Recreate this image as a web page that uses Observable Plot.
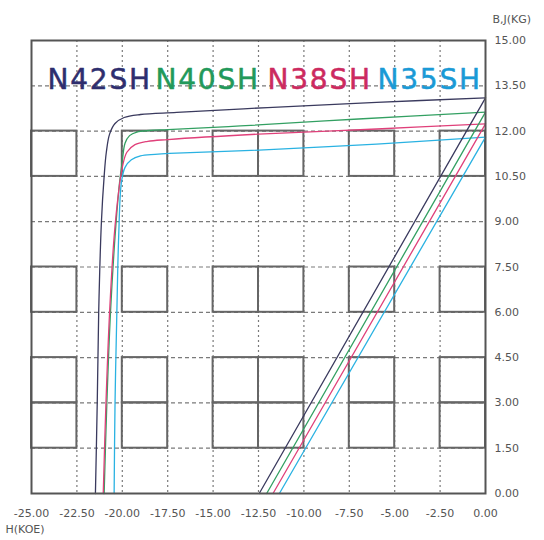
<!DOCTYPE html>
<html>
<head>
<meta charset="utf-8">
<script src="https://cdn.jsdelivr.net/npm/d3@7"></script>
<script src="https://cdn.jsdelivr.net/npm/@observablehq/plot@0.6"></script>
<style>
  html, body { margin: 0; padding: 0; background: #fff; }
  #chart svg { display: block; }
  .glabel text { letter-spacing: 1.8px; }
</style>
</head>
<body>
<div id="chart"></div>
<script>
// ---- data ----
const grades = ["N42SH", "N40SH", "N38SH", "N35SH"];

// intrinsic (J) curves, H in kOe, B in kG
const j42H = [-21.48, -21.38, -21.3, -21.15, -21.0, -20.88, -20.7, -20.4, -19.9, -19.0, -17.0, -12.0, -6.0, 0];
const j42B = [0, 3, 6, 9, 10.5, 11.3, 11.9, 12.25, 12.45, 12.55, 12.62, 12.78, 12.95, 13.1];
const j40H = [-21.0, -20.85, -20.65, -20.4, -20.15, -20.0, -19.85, -19.6, -19.2, -18.5, -17.5, -13.5, -7, 0];
const j40B = [0, 3, 6, 8.5, 10.3, 11.0, 11.6, 11.85, 11.97, 12.02, 12.05, 12.17, 12.4, 12.63];
const j38H = [-21.05, -20.9, -20.7, -20.45, -20.2, -20.0, -19.75, -19.3, -18.6, -17.5, -12.5, -6, 0];
const j38B = [0, 3, 6, 8.5, 10.0, 10.8, 11.3, 11.55, 11.66, 11.72, 11.9, 12.07, 12.24];
const j35H = [-20.45, -20.4, -20.3, -20.2, -20.05, -19.85, -19.5, -19.0, -18.2, -17.4, -12.9, -6, 0];
const j35B = [0, 3, 6, 8.5, 10.3, 10.8, 11.05, 11.18, 11.23, 11.26, 11.36, 11.57, 11.8];

// normal (B) lines: coercivity Hcb (at B=0) and remanence Br (at H=0)
const hcb = [-12.46, -12.05, -11.7, -11.35];
const br  = [13.1, 12.63, 12.24, 11.8];

// axis ticks
const xTicks = [-25, -22.5, -20, -17.5, -15, -12.5, -10, -7.5, -5, -2.5, 0];
const yTicks = [0, 1.5, 3, 4.5, 6, 7.5, 9, 10.5, 12, 13.5, 15];

// grid pattern of solid boxes (left edges in H, bottom edges in B)
const boxCols = [-25, -20, -15, -12.5, -7.5, -2.5];
const boxRows = [1.5, 3, 6, 10.5];

// ---- build ----
const lineColors = ["#3a3a5e", "#33a062", "#e0407a", "#2ab2e2"];
const textColors = ["#2e2e6e", "#22995a", "#cc2a60", "#1a9ad6"];

const jSets = [[j42H, j42B], [j40H, j40B], [j38H, j38B], [j35H, j35B]];
const jData = jSets.flatMap(([hs, bs], g) => hs.map((h, i) => ({grade: grades[g], H: h, B: bs[i]})));
const bData = grades.flatMap((g, i) => [{grade: g, H: hcb[i], B: 0}, {grade: g, H: 0, B: br[i]}]);
const boxes = boxCols.flatMap(c => boxRows.map(r => ({x1: c, x2: c + 2.5, y1: r, y2: r + 1.5})));
const fmt = d => d.toFixed(2);
const innerX = xTicks.slice(1, -1);
const innerY = yTicks.slice(1, -1);

const labelDx = [16, 124, 236, 346];

const chart = Plot.plot({
  width: 544,
  height: 540,
  marginLeft: 31,
  marginRight: 59,
  marginTop: 40,
  marginBottom: 47,
  style: {fontFamily: "DejaVu Sans, sans-serif", fontSize: "11px", color: "#555", background: "#fff"},
  x: {domain: [-25, 0]},
  y: {domain: [0, 15]},
  color: {domain: grades, range: lineColors},
  marks: [
    Plot.ruleX(innerX, {stroke: "#7a7a7a", strokeWidth: 1.2, strokeDasharray: "2,3"}),
    Plot.ruleY(innerY, {stroke: "#7a7a7a", strokeWidth: 1.2, strokeDasharray: "4,3"}),
    Plot.rect(boxes, {x1: "x1", x2: "x2", y1: "y1", y2: "y2", fill: "none", stroke: "#666", strokeWidth: 2}),
    Plot.line(jData, {x: "H", y: "B", z: "grade", stroke: "grade", strokeWidth: 1.3, curve: "catmull-rom"}),
    Plot.line(bData, {x: "H", y: "B", z: "grade", stroke: "grade", strokeWidth: 1.3}),
    ...grades.map((g, i) => Plot.text([g], {
      frameAnchor: "top-left", dx: labelDx[i], dy: 40, text: d => d,
      textAnchor: "start", lineAnchor: "middle", fill: textColors[i],
      fontSize: 28, fontFamily: "DejaVu Sans, sans-serif", stroke: textColors[i], strokeWidth: 0.5,
      className: "glabel"
    })),
    Plot.frame({stroke: "#555", strokeWidth: 2}),
    Plot.axisX({ticks: xTicks, tickSize: 0, tickPadding: 16, tickFormat: fmt, label: null, fill: "#555"}),
    Plot.axisY({anchor: "right", ticks: yTicks, tickSize: 0, tickPadding: 9, tickFormat: fmt, label: null, fill: "#555"}),
    Plot.text(["B,J(KG)"], {frameAnchor: "top-right", dx: 7, dy: -25, text: d => d, textAnchor: "start", fill: "#555", fontSize: 11}),
    Plot.text(["H(KOE)"], {frameAnchor: "bottom-left", dx: -26, dy: 39, text: d => d, textAnchor: "start", fill: "#555", fontSize: 11})
  ]
});
document.getElementById("chart").appendChild(chart);
</script>
</body>
</html>
